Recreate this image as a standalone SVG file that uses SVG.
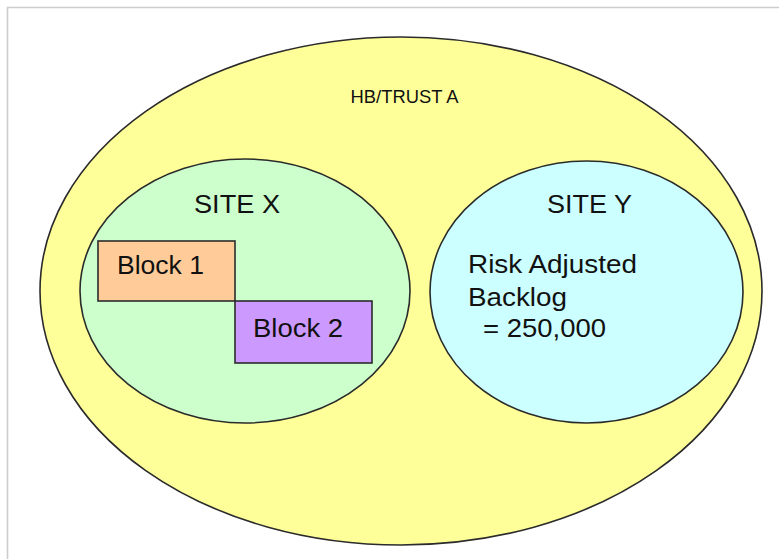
<svg xmlns="http://www.w3.org/2000/svg" width="779" height="559" viewBox="0 0 779 559">
  <style>
    .shape { stroke: #2b2b2b; stroke-width: 1.6; }
    .label { font-family: "Liberation Sans", Arial, sans-serif; fill: #111; }
    .big { font-size: 26px; }
  </style>
  <rect width="779" height="559" fill="#ffffff"/>
  <!-- page frame -->
  <path d="M7.5 560 V7.5 H780" fill="none" stroke="#cccccc" stroke-width="1.6"/>

  <g id="trust">
    <ellipse class="shape" cx="401" cy="291" rx="361" ry="254" fill="#ffff99"/>
    <text class="label" x="350.5" y="103" font-size="17.5" textLength="108" lengthAdjust="spacingAndGlyphs">HB/TRUST A</text>
  </g>

  <g id="site-x">
    <ellipse class="shape" cx="245" cy="291" rx="165" ry="132" fill="#ccffcc"/>
    <text class="label big" x="194" y="213" textLength="86" lengthAdjust="spacingAndGlyphs">SITE X</text>
  </g>

  <g id="block-1">
    <rect class="shape" x="98" y="241" width="137" height="60" fill="#ffcc99"/>
    <text class="label big" x="117" y="274" textLength="87" lengthAdjust="spacingAndGlyphs">Block 1</text>
  </g>

  <g id="block-2">
    <rect class="shape" x="235" y="301" width="137" height="62" fill="#cc99ff"/>
    <text class="label big" x="253" y="337" textLength="90" lengthAdjust="spacingAndGlyphs">Block 2</text>
  </g>

  <g id="site-y">
    <ellipse class="shape" cx="586.5" cy="292" rx="156.5" ry="131" fill="#ccffff"/>
    <text class="label big" x="547" y="213" textLength="85" lengthAdjust="spacingAndGlyphs">SITE Y</text>
    <text class="label big" x="468" y="273" textLength="169" lengthAdjust="spacingAndGlyphs">Risk Adjusted</text>
    <text class="label big" x="468" y="306" textLength="99" lengthAdjust="spacingAndGlyphs">Backlog</text>
    <text class="label big" x="483" y="337" textLength="123" lengthAdjust="spacingAndGlyphs">= 250,000</text>
  </g>

  <g id="connectors"/>
</svg>
